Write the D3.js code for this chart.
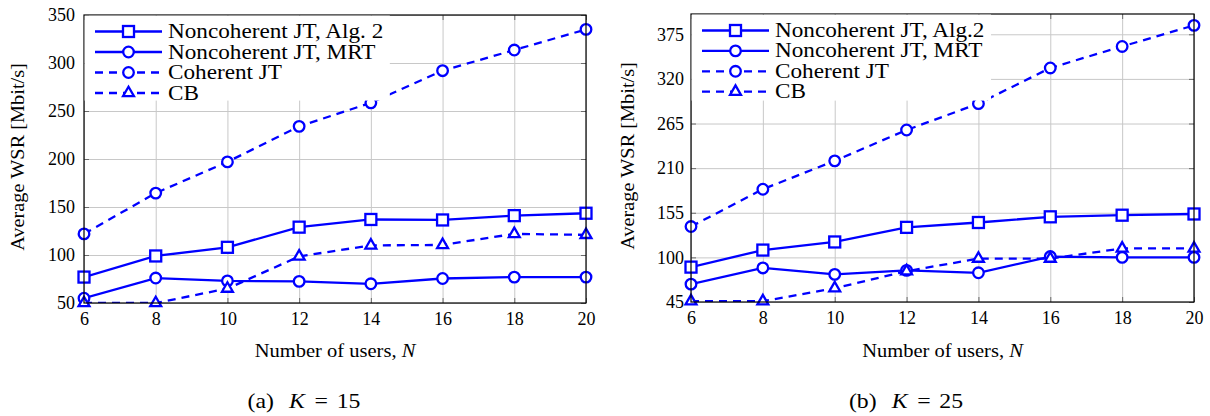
<!DOCTYPE html>
<html>
<head>
<meta charset="utf-8">
<script src="https://cdn.jsdelivr.net/npm/d3@7/dist/d3.min.js"></script>
<style>
  html, body { margin: 0; padding: 0; background: #fff; }
  svg { display: block; }
  svg text { font-family: "Liberation Serif", "Tinos", "Times New Roman", "DejaVu Serif", serif !important; fill: #000; }
</style>
</head>
<body>
<svg id="chart" width="1210" height="416"></svg>
<script>
// ---------------- data ----------------
const users = [6, 8, 10, 12, 14, 16, 18, 20];

// (a) K = 15
const alg2K15 = [77, 99, 108, 129, 137, 136.5, 141, 143.5];
const mrtK15  = [55, 76, 73, 72.5, 70, 75.5, 77, 77];
const cohK15  = [122, 164.5, 197, 234, 258.5, 292, 313.5, 335];
const cbK15   = [50, 50, 65, 98.5, 110, 110.5, 122, 121];
const yTicksK15 = [50, 100, 150, 200, 250, 300, 350];

// (b) K = 25
const alg2K25 = [88, 109, 119, 137, 143, 150, 152, 153.5];
const mrtK25  = [67, 87, 79, 84, 81, 101, 100, 100];
const cohK25  = [138, 184, 219, 257, 289.5, 333.5, 360, 386];
const cbK25   = [46, 46, 62, 83, 98.5, 98.5, 111, 111];
const yTicksK25 = [45, 100, 155, 210, 265, 320, 375];

const xTicks = [6, 8, 10, 12, 14, 16, 18, 20];
const seriesNamesK15 = ["Noncoherent JT, Alg. 2", "Noncoherent JT, MRT", "Coherent JT", "CB"];
const seriesNamesK25 = ["Noncoherent JT, Alg.2", "Noncoherent JT, MRT", "Coherent JT", "CB"];
const xLabel = "Number of users, ";
const yLabel = "Average WSR [Mbit/s]";

// ---------------- drawing ----------------
const svg = d3.select("#chart");
const BLUE = "#0000ff";
const FONT = '"Liberation Serif", "Tinos", "Times New Roman", "DejaVu Serif", serif';
const styles = [
  { dash: null, mark: "square" },
  { dash: null, mark: "circle" },
  { dash: "8,6", mark: "circle" },
  { dash: "8,6", mark: "triangle" }
];

function drawMarker(g, type, cx, cy) {
  if (type === "square") {
    g.append("rect").attr("x", cx - 5.5).attr("y", cy - 5.5).attr("width", 11).attr("height", 11)
      .attr("fill", "#fff").attr("stroke", BLUE).attr("stroke-width", 2.3);
  } else if (type === "circle") {
    g.append("circle").attr("cx", cx).attr("cy", cy).attr("r", 5.3)
      .attr("fill", "#fff").attr("stroke", BLUE).attr("stroke-width", 2.3);
  } else {
    const r = 6.3;
    const pts = [[cx, cy - r], [cx - r * 0.866, cy + r * 0.5], [cx + r * 0.866, cy + r * 0.5]];
    g.append("polygon").attr("points", pts.map(p => p.join(",")).join(" "))
      .attr("fill", "#fff").attr("stroke", BLUE).attr("stroke-width", 2.3).attr("stroke-linejoin", "miter");
  }
}

function panel(cfg) {
  const x = d3.scaleLinear().domain([6, 20]).range([cfg.x0, cfg.x1]);
  const y = d3.scaleLinear().domain(cfg.yDomain).range([cfg.y1, cfg.y0]);
  const W = cfg.x1 - cfg.x0, H = cfg.y1 - cfg.y0;
  const g = svg.append("g").attr("font-family", FONT);

  // grid
  const gx = g.append("g").attr("transform", `translate(0,${cfg.y1})`)
    .call(d3.axisBottom(x).tickValues(xTicks).tickSize(-H).tickFormat(""));
  gx.select(".domain").remove();
  gx.selectAll("line").attr("stroke", "#c8c8c8").attr("stroke-width", 1);
  const gy = g.append("g").attr("transform", `translate(${cfg.x0},0)`)
    .call(d3.axisLeft(y).tickValues(cfg.yTicks).tickSize(-W).tickFormat(""));
  gy.select(".domain").remove();
  gy.selectAll("line").attr("stroke", "#c8c8c8").attr("stroke-width", 1);

  // inner ticks on all sides
  const tickLen = 5;
  const tb = g.append("g").attr("transform", `translate(0,${cfg.y1})`)
    .call(d3.axisBottom(x).tickValues(xTicks).tickSize(-tickLen).tickFormat(""));
  const tt = g.append("g").attr("transform", `translate(0,${cfg.y0})`)
    .call(d3.axisTop(x).tickValues(xTicks).tickSize(-tickLen).tickFormat(""));
  const tl = g.append("g").attr("transform", `translate(${cfg.x0},0)`)
    .call(d3.axisLeft(y).tickValues(cfg.yTicks).tickSize(-tickLen).tickFormat(""));
  const tr = g.append("g").attr("transform", `translate(${cfg.x1},0)`)
    .call(d3.axisRight(y).tickValues(cfg.yTicks).tickSize(-tickLen).tickFormat(""));
  [tb, tt, tl, tr].forEach(a => {
    a.select(".domain").remove();
    a.selectAll("line").attr("stroke", "#6a6a6a").attr("stroke-width", 1);
  });

  // tick labels
  const lb = g.append("g").attr("transform", `translate(0,${cfg.y1})`)
    .call(d3.axisBottom(x).tickValues(xTicks).tickSize(0).tickPadding(9).tickFormat(d3.format("d")));
  lb.select(".domain").remove();
  lb.attr("font-family", FONT);
  lb.selectAll("text").attr("font-size", 18).attr("font-family", FONT);
  const ll = g.append("g").attr("transform", `translate(${cfg.x0},0)`)
    .call(d3.axisLeft(y).tickValues(cfg.yTicks).tickSize(0).tickPadding(cfg.yPad).tickFormat(d3.format("d")));
  ll.select(".domain").remove();
  ll.attr("font-family", FONT);
  ll.selectAll("text").attr("font-size", 18).attr("font-family", FONT);

  // series
  const series = cfg.series;
  const clipId = "clip" + cfg.id;
  svg.append("defs").append("clipPath").attr("id", clipId)
    .append("rect").attr("x", cfg.x0).attr("y", cfg.y0).attr("width", W).attr("height", H);
  const line = d3.line().x((d, i) => x(users[i])).y(d => y(d));
  const dataG = g.append("g");
  series.forEach((s, k) => {
    const st = styles[k];
    dataG.append("path").datum(s).attr("d", line)
      .attr("fill", "none").attr("stroke", BLUE).attr("stroke-width", 2.3)
      .attr("stroke-dasharray", st.dash).attr("clip-path", `url(#${clipId})`);
  });

  // frame
  g.append("rect").attr("x", cfg.x0).attr("y", cfg.y0).attr("width", W).attr("height", H)
    .attr("fill", "none").attr("stroke", "#000").attr("stroke-width", 1.2);

  series.forEach((s, k) => {
    const st = styles[k];
    const mg = dataG.append("g");
    s.forEach((v, i) => drawMarker(mg, st.mark, x(users[i]), y(v)));
  });

  // legend
  const leg = g.append("g");
  const legRect = leg.append("rect").attr("x", cfg.x0 + 0.6).attr("y", cfg.y0 + 0.6)
    .attr("height", cfg.legH).attr("fill", "#fff");
  let maxRight = 0;
  const sx = 1.16;
  cfg.names.forEach((name, k) => {
    const st = styles[k];
    const cy = cfg.y0 + cfg.legRow0 + k * cfg.legStep;
    const lx0 = cfg.x0 + 11, lx1 = cfg.x0 + 78, mx = (lx0 + lx1) / 2;
    leg.append("line").attr("x1", lx0).attr("x2", lx1).attr("y1", cy).attr("y2", cy)
      .attr("stroke", BLUE).attr("stroke-width", 2.3).attr("stroke-dasharray", st.dash);
    drawMarker(leg, st.mark, mx, cy);
    const tx = cfg.x0 + 84, ty = cy + 6.5;
    const t = leg.append("text").attr("transform", `translate(${tx},${ty}) scale(${sx},1)`)
      .attr("font-size", 20).text(name);
    const bb = t.node().getBBox();
    maxRight = Math.max(maxRight, tx + (bb.x + bb.width) * sx);
  });
  legRect.attr("width", maxRight + 6 - cfg.x0);

  // axis labels
  const xl = g.append("text")
    .attr("transform", `translate(${(cfg.x0 + cfg.x1) / 2},357) scale(1.08,1)`)
    .attr("text-anchor", "middle").attr("font-size", 19);
  xl.append("tspan").text(xLabel);
  xl.append("tspan").attr("font-style", "italic").text("N");

  g.append("text")
    .attr("transform", `translate(${cfg.yLabelX},${(cfg.y0 + cfg.y1) / 2 - 2}) rotate(-90) scale(1.07,1)`)
    .attr("text-anchor", "middle").attr("font-size", 19).text(yLabel);

  // caption
  const cap = g.append("text")
    .attr("transform", `translate(${cfg.capX},408) scale(1.08,1)`)
    .attr("text-anchor", "middle").attr("font-size", 22);
  cap.append("tspan").text(cfg.capTag);
  cap.append("tspan").attr("dx", 14).attr("font-style", "italic").text("K");
  cap.append("tspan").attr("dx", 9).text("=");
  cap.append("tspan").attr("dx", 8).text(cfg.capK);
}

panel({
  id: "a", x0: 84, x1: 586, y0: 15, y1: 303, yDomain: [50, 350], yTicks: yTicksK15, yPad: 9,
  series: [alg2K15, mrtK15, cohK15, cbK15], names: seriesNamesK15,
  legH: 85, legRow0: 16.5, legStep: 20.5, yLabelX: 24, capX: 304, capTag: "(a)", capK: "15"
});
panel({
  id: "b", x0: 691, x1: 1194, y0: 14, y1: 302, yDomain: [45, 400], yTicks: yTicksK25, yPad: 7,
  series: [alg2K25, mrtK25, cohK25, cbK25], names: seriesNamesK25,
  legH: 86, legRow0: 16.5, legStep: 20.4, yLabelX: 634, capX: 906, capTag: "(b)", capK: "25"
});
</script>
</body>
</html>
